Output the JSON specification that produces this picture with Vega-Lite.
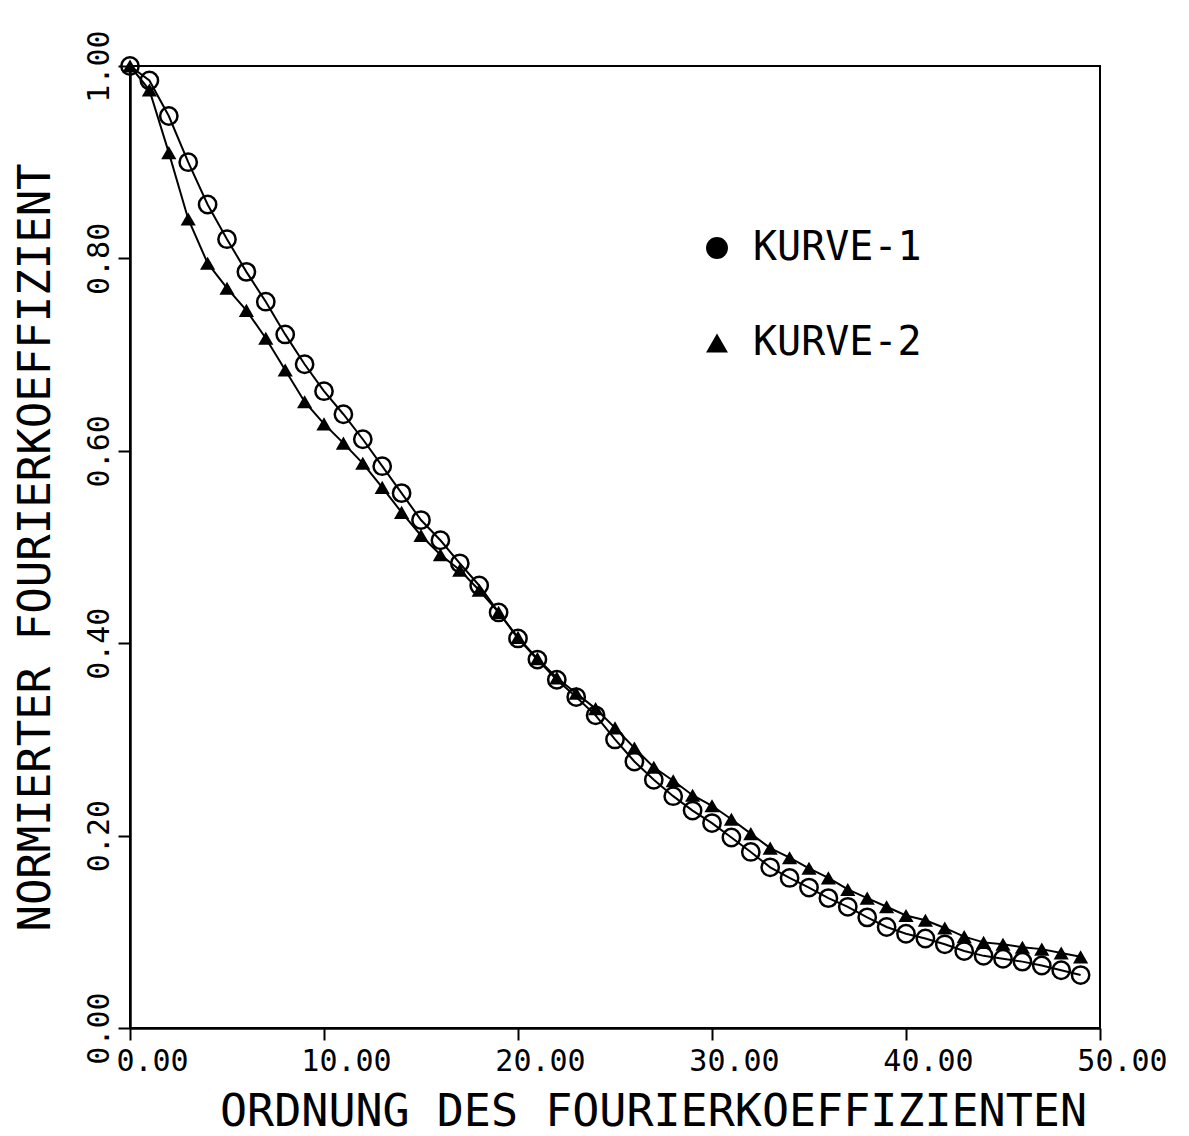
{
  "$schema": "https://vega.github.io/schema/vega-lite/v6.json",
  "autosize": "none",
  "width": 970,
  "height": 962,
  "padding": {"left": 130, "top": 66, "right": 89, "bottom": 108},
  "background": "white",
  "config": {
    "view": {"stroke": "black", "strokeWidth": 2},
    "font": "DejaVu Sans Mono",
    "axis": {
      "domainColor": "black", "domainWidth": 2.5, "tickColor": "black", "tickWidth": 2,
      "labelColor": "black", "titleColor": "black", "grid": false,
      "labelFont": "DejaVu Sans Mono", "titleFont": "DejaVu Sans Mono",
      "labelFontWeight": "normal", "titleFontWeight": "normal"
    }
  },
  "data": {"values": [
    {"n": 0, "v": 1.000, "curve": "KURVE-1"},
    {"n": 1, "v": 0.985, "curve": "KURVE-1"},
    {"n": 2, "v": 0.948, "curve": "KURVE-1"},
    {"n": 3, "v": 0.900, "curve": "KURVE-1"},
    {"n": 4, "v": 0.856, "curve": "KURVE-1"},
    {"n": 5, "v": 0.820, "curve": "KURVE-1"},
    {"n": 6, "v": 0.786, "curve": "KURVE-1"},
    {"n": 7, "v": 0.755, "curve": "KURVE-1"},
    {"n": 8, "v": 0.721, "curve": "KURVE-1"},
    {"n": 9, "v": 0.690, "curve": "KURVE-1"},
    {"n": 10, "v": 0.662, "curve": "KURVE-1"},
    {"n": 11, "v": 0.638, "curve": "KURVE-1"},
    {"n": 12, "v": 0.612, "curve": "KURVE-1"},
    {"n": 13, "v": 0.584, "curve": "KURVE-1"},
    {"n": 14, "v": 0.556, "curve": "KURVE-1"},
    {"n": 15, "v": 0.528, "curve": "KURVE-1"},
    {"n": 16, "v": 0.507, "curve": "KURVE-1"},
    {"n": 17, "v": 0.483, "curve": "KURVE-1"},
    {"n": 18, "v": 0.460, "curve": "KURVE-1"},
    {"n": 19, "v": 0.432, "curve": "KURVE-1"},
    {"n": 20, "v": 0.405, "curve": "KURVE-1"},
    {"n": 21, "v": 0.383, "curve": "KURVE-1"},
    {"n": 22, "v": 0.362, "curve": "KURVE-1"},
    {"n": 23, "v": 0.344, "curve": "KURVE-1"},
    {"n": 24, "v": 0.325, "curve": "KURVE-1"},
    {"n": 25, "v": 0.300, "curve": "KURVE-1"},
    {"n": 26, "v": 0.277, "curve": "KURVE-1"},
    {"n": 27, "v": 0.258, "curve": "KURVE-1"},
    {"n": 28, "v": 0.241, "curve": "KURVE-1"},
    {"n": 29, "v": 0.226, "curve": "KURVE-1"},
    {"n": 30, "v": 0.213, "curve": "KURVE-1"},
    {"n": 31, "v": 0.198, "curve": "KURVE-1"},
    {"n": 32, "v": 0.183, "curve": "KURVE-1"},
    {"n": 33, "v": 0.167, "curve": "KURVE-1"},
    {"n": 34, "v": 0.156, "curve": "KURVE-1"},
    {"n": 35, "v": 0.146, "curve": "KURVE-1"},
    {"n": 36, "v": 0.135, "curve": "KURVE-1"},
    {"n": 37, "v": 0.126, "curve": "KURVE-1"},
    {"n": 38, "v": 0.115, "curve": "KURVE-1"},
    {"n": 39, "v": 0.105, "curve": "KURVE-1"},
    {"n": 40, "v": 0.098, "curve": "KURVE-1"},
    {"n": 41, "v": 0.093, "curve": "KURVE-1"},
    {"n": 42, "v": 0.087, "curve": "KURVE-1"},
    {"n": 43, "v": 0.080, "curve": "KURVE-1"},
    {"n": 44, "v": 0.075, "curve": "KURVE-1"},
    {"n": 45, "v": 0.072, "curve": "KURVE-1"},
    {"n": 46, "v": 0.069, "curve": "KURVE-1"},
    {"n": 47, "v": 0.065, "curve": "KURVE-1"},
    {"n": 48, "v": 0.060, "curve": "KURVE-1"},
    {"n": 49, "v": 0.055, "curve": "KURVE-1"},
    {"n": 0, "v": 1.000, "curve": "KURVE-2"},
    {"n": 1, "v": 0.975, "curve": "KURVE-2"},
    {"n": 2, "v": 0.910, "curve": "KURVE-2"},
    {"n": 3, "v": 0.841, "curve": "KURVE-2"},
    {"n": 4, "v": 0.795, "curve": "KURVE-2"},
    {"n": 5, "v": 0.769, "curve": "KURVE-2"},
    {"n": 6, "v": 0.746, "curve": "KURVE-2"},
    {"n": 7, "v": 0.717, "curve": "KURVE-2"},
    {"n": 8, "v": 0.684, "curve": "KURVE-2"},
    {"n": 9, "v": 0.651, "curve": "KURVE-2"},
    {"n": 10, "v": 0.628, "curve": "KURVE-2"},
    {"n": 11, "v": 0.608, "curve": "KURVE-2"},
    {"n": 12, "v": 0.587, "curve": "KURVE-2"},
    {"n": 13, "v": 0.562, "curve": "KURVE-2"},
    {"n": 14, "v": 0.536, "curve": "KURVE-2"},
    {"n": 15, "v": 0.512, "curve": "KURVE-2"},
    {"n": 16, "v": 0.492, "curve": "KURVE-2"},
    {"n": 17, "v": 0.476, "curve": "KURVE-2"},
    {"n": 18, "v": 0.455, "curve": "KURVE-2"},
    {"n": 19, "v": 0.432, "curve": "KURVE-2"},
    {"n": 20, "v": 0.406, "curve": "KURVE-2"},
    {"n": 21, "v": 0.384, "curve": "KURVE-2"},
    {"n": 22, "v": 0.364, "curve": "KURVE-2"},
    {"n": 23, "v": 0.348, "curve": "KURVE-2"},
    {"n": 24, "v": 0.332, "curve": "KURVE-2"},
    {"n": 25, "v": 0.312, "curve": "KURVE-2"},
    {"n": 26, "v": 0.291, "curve": "KURVE-2"},
    {"n": 27, "v": 0.271, "curve": "KURVE-2"},
    {"n": 28, "v": 0.257, "curve": "KURVE-2"},
    {"n": 29, "v": 0.242, "curve": "KURVE-2"},
    {"n": 30, "v": 0.231, "curve": "KURVE-2"},
    {"n": 31, "v": 0.217, "curve": "KURVE-2"},
    {"n": 32, "v": 0.202, "curve": "KURVE-2"},
    {"n": 33, "v": 0.187, "curve": "KURVE-2"},
    {"n": 34, "v": 0.177, "curve": "KURVE-2"},
    {"n": 35, "v": 0.166, "curve": "KURVE-2"},
    {"n": 36, "v": 0.156, "curve": "KURVE-2"},
    {"n": 37, "v": 0.144, "curve": "KURVE-2"},
    {"n": 38, "v": 0.135, "curve": "KURVE-2"},
    {"n": 39, "v": 0.126, "curve": "KURVE-2"},
    {"n": 40, "v": 0.117, "curve": "KURVE-2"},
    {"n": 41, "v": 0.112, "curve": "KURVE-2"},
    {"n": 42, "v": 0.104, "curve": "KURVE-2"},
    {"n": 43, "v": 0.095, "curve": "KURVE-2"},
    {"n": 44, "v": 0.089, "curve": "KURVE-2"},
    {"n": 45, "v": 0.087, "curve": "KURVE-2"},
    {"n": 46, "v": 0.084, "curve": "KURVE-2"},
    {"n": 47, "v": 0.082, "curve": "KURVE-2"},
    {"n": 48, "v": 0.078, "curve": "KURVE-2"},
    {"n": 49, "v": 0.074, "curve": "KURVE-2"}
  ]},
  "encoding": {
    "x": {
      "field": "n", "type": "quantitative",
      "scale": {"domain": [0, 50], "nice": false, "zero": false},
      "axis": {
        "values": [0, 10, 20, 30, 40, 50], "format": ".2f",
        "title": "ORDNUNG DES FOURIERKOEFFIZIENTEN",
        "titleFontSize": 45, "titlePadding": 13, "titleX": 523, "titleAlign": "center",
        "labelFontSize": 30, "labelPadding": 6, "tickSize": 12,
        "labelAlign": "center", "labelOffset": 22, "labelFlush": false
      }
    },
    "y": {
      "field": "v", "type": "quantitative",
      "scale": {"domain": [0, 1], "nice": false},
      "axis": {
        "values": [0, 0.2, 0.4, 0.6, 0.8, 1.0], "format": ".2f",
        "title": "NORMIERTER FOURIERKOEFFIZIENT",
        "titleFontSize": 44, "titlePadding": 26,
        "labelFontSize": 30, "labelPadding": 4, "tickSize": 12,
        "labelAngle": -90, "labelAlign": "center", "labelBaseline": "bottom", "labelFlush": false
      }
    }
  },
  "layer": [
    {
      "mark": {"type": "line", "color": "black", "strokeWidth": 2},
      "encoding": {"detail": {"field": "curve"}}
    },
    {
      "transform": [{"filter": "datum.curve === 'KURVE-2'"}],
      "mark": {"type": "point", "filled": true, "color": "black", "size": 230, "opacity": 1},
      "encoding": {
        "shape": {
          "field": "curve", "type": "nominal",
          "scale": {"domain": ["KURVE-1", "KURVE-2"], "range": ["circle", "triangle-up"]},
          "legend": {
            "title": null, "orient": "none", "legendX": 567, "legendY": 162,
            "labelFontSize": 40, "labelFont": "DejaVu Sans Mono", "labelColor": "black",
            "symbolSize": 480, "symbolFillColor": "black", "symbolStrokeColor": "black",
            "symbolStrokeWidth": 1, "symbolOpacity": 1, "rowPadding": 55, "labelOffset": 16,
            "labelLimit": 400
          }
        }
      }
    },
    {
      "transform": [{"filter": "datum.curve === 'KURVE-1'"}],
      "mark": {"type": "point", "filled": false, "stroke": "black", "strokeWidth": 2.5, "size": 300, "opacity": 1},
      "encoding": {
        "shape": {"field": "curve", "type": "nominal"}
      }
    }
  ]
}
